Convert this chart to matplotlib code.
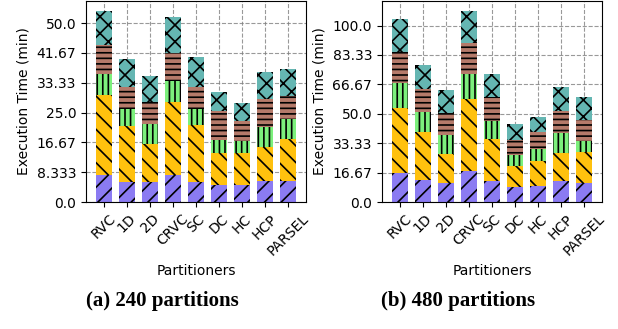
import numpy as np
import matplotlib
matplotlib.use("Agg")
import matplotlib.pyplot as plt

partitioners = ["RVC", "1D", "2D", "CRVC", "SC", "DC", "HC", "HCP", "PARSEL"]

# execution time per stage (min), bottom to top
p240_stage1 = [7.6, 5.7, 5.7, 7.6, 5.7, 4.7, 4.7, 5.9, 5.9]
p240_stage2 = [22.3, 15.5, 10.6, 20.4, 15.7, 8.9, 8.9, 9.5, 11.6]
p240_stage3 = [5.9, 4.7, 5.4, 5.9, 4.6, 3.8, 3.5, 5.6, 5.7]
p240_stage4 = [8.0, 6.1, 6.3, 7.7, 6.0, 8.0, 5.5, 7.9, 6.5]
p240_stage5 = [9.7, 8.1, 7.3, 10.0, 8.6, 5.3, 5.1, 7.4, 7.4]

p480_stage1 = [16.4, 12.4, 10.7, 17.5, 12.1, 8.7, 9.2, 12.1, 10.5]
p480_stage2 = [36.9, 27.5, 16.6, 40.9, 23.5, 11.6, 14.2, 15.6, 17.7]
p480_stage3 = [14.3, 10.9, 10.7, 14.3, 10.4, 6.1, 6.7, 11.5, 6.1]
p480_stage4 = [17.5, 13.2, 12.5, 17.5, 13.3, 8.8, 9.4, 12.6, 12.4]
p480_stage5 = [18.5, 13.6, 12.8, 18.3, 13.2, 8.9, 8.5, 13.4, 13.0]

yticks_240 = [0, 50 / 6, 100 / 6, 25, 200 / 6, 250 / 6, 50]
yticklabels_240 = ["0.0", "8.333", "16.67", "25.0", "33.33", "41.67", "50.0"]
yticks_480 = [0, 100 / 6, 200 / 6, 50, 400 / 6, 500 / 6, 100]
yticklabels_480 = ["0.0", "16.67", "33.33", "50.0", "66.67", "83.33", "100.0"]

COLORS = ["#8b7bf2", "#ffc10e", "#7cf07c", "#b57a6a", "#65b6b2"]
HATCHES = ["//", "\\\\", "|||", "---", "xx"]

plt.rcParams["hatch.linewidth"] = 1.2
plt.rcParams["font.size"] = 10

fig = plt.figure(figsize=(6.18, 3.29), dpi=100)
ax1 = fig.add_axes([0.139, 0.386, 0.356, 0.611])
ax2 = fig.add_axes([0.618, 0.386, 0.356, 0.611])


def draw_stack(ax, stages, yticks, yticklabels):
    x = np.arange(len(partitioners))
    bottom = np.zeros(len(partitioners))
    for vals, color, hatch in zip(stages, COLORS, HATCHES):
        ax.bar(x, vals, 0.7, bottom=bottom, color=color, hatch=hatch,
               edgecolor="black", linewidth=0)
        bottom += np.array(vals)
    ax.set_axisbelow(True)
    ax.grid(True, linestyle="--", color="gray", linewidth=0.8, alpha=0.8)
    ax.set_xticks(x)
    ax.set_xticklabels(partitioners, rotation=45)
    ax.set_yticks(yticks)
    ax.set_yticklabels(yticklabels)
    ax.set_xlabel("Partitioners")
    ax.set_ylabel("Execution Time (min)")


draw_stack(ax1, [p240_stage1, p240_stage2, p240_stage3, p240_stage4, p240_stage5],
           yticks_240, yticklabels_240)
draw_stack(ax2, [p480_stage1, p480_stage2, p480_stage3, p480_stage4, p480_stage5],
           yticks_480, yticklabels_480)

# captions under each panel
fig.text(0.262, 0.085, "(a) 240 partitions", ha="center", va="center",
         fontsize=15, fontweight="bold", family="Liberation Serif")
fig.text(0.742, 0.085, "(b) 480 partitions", ha="center", va="center",
         fontsize=15, fontweight="bold", family="Liberation Serif")

fig.savefig("out.png", dpi=100)
